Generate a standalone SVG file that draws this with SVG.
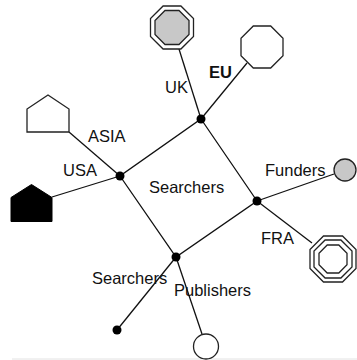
<svg xmlns="http://www.w3.org/2000/svg" width="357" height="360" viewBox="0 0 357 360">
<style>
.e{stroke:#111;stroke-width:1.3;fill:none}
.s{stroke:#222;stroke-width:1.3;fill:#fff}
.g{stroke:#222;stroke-width:1.3;fill:#c8c8c8}
.d{fill:#000}
text{font-family:"Liberation Sans",Arial,sans-serif;font-size:16.5px;fill:#111}
</style>
<rect width="357" height="360" fill="#fff"/>
<line x1="12" y1="359" x2="357" y2="359" stroke="#e2e2e2" stroke-width="1"/>
<g id="connectors">
<polygon class="e" points="201,119 257,201 176,257 120,176"/>
<line class="e" x1="179" y1="49" x2="201" y2="119"/>
<line class="e" x1="247" y1="63" x2="201" y2="119"/>
<line class="e" x1="69" y1="132" x2="120" y2="176"/>
<line class="e" x1="52" y1="197" x2="120" y2="176"/>
<line class="e" x1="334" y1="174" x2="257" y2="201"/>
<line class="e" x1="312" y1="243" x2="257" y2="201"/>
<line class="e" x1="117" y1="330" x2="176" y2="257"/>
<line class="e" x1="202" y1="334" x2="176" y2="257"/>
</g>
<g id="hub-top"><circle class="d" cx="201" cy="119" r="4.5"/></g>
<g id="hub-left"><circle class="d" cx="120" cy="176" r="4.5"/></g>
<g id="hub-right"><circle class="d" cx="257" cy="201" r="4.5"/></g>
<g id="hub-bottom"><circle class="d" cx="176" cy="257" r="4.5"/></g>
<g id="searchers-center"><text x="149" y="193">Searchers</text></g>
<g id="uk">
<polygon class="s" points="163.1,6 180.9,6 193.5,18.6 193.5,36.4 180.9,49 163.1,49 150.5,36.4 150.5,18.6"/>
<polygon class="g" points="165,10.5 179,10.5 189,20.5 189,34.5 179,44.5 165,44.5 155,34.5 155,20.5"/>
<text x="165" y="93">UK</text>
</g>
<g id="eu">
<polygon class="s" points="253.3,26 270.7,26 283,38.3 283,55.7 270.7,68 253.3,68 241,55.7 241,38.3"/>
<text x="209" y="78" font-weight="bold">EU</text>
</g>
<g id="asia">
<polygon class="s" points="48,95 69,109 69,132 27,132 27,109"/>
<text x="88" y="142">ASIA</text>
</g>
<g id="usa">
<polygon fill="#000" stroke="#000" stroke-width="1" points="31.5,184.5 52,197.5 52,221.5 11,221.5 11,197.5"/>
<text x="63" y="176">USA</text>
</g>
<g id="funders">
<circle class="g" cx="345" cy="170" r="11"/>
<text x="265" y="176">Funders</text>
</g>
<g id="fra">
<polygon class="s" points="323.5,236 342.5,236 356,249.5 356,268.5 342.5,282 323.5,282 310,268.5 310,249.5"/>
<polygon class="s" points="325.1,240 340.9,240 352,251.1 352,266.9 340.9,278 325.1,278 314,266.9 314,251.1"/>
<polygon class="s" points="327.2,245 338.8,245 347,253.2 347,264.8 338.8,273 327.2,273 319,264.8 319,253.2"/>
<text x="261" y="244">FRA</text>
</g>
<g id="searchers-leaf">
<circle class="d" cx="117" cy="330" r="4.5"/>
<text x="92" y="284">Searchers</text>
</g>
<g id="publishers">
<circle class="s" cx="206" cy="346.5" r="12.5"/>
<text x="174" y="296">Publishers</text>
</g>
</svg>
